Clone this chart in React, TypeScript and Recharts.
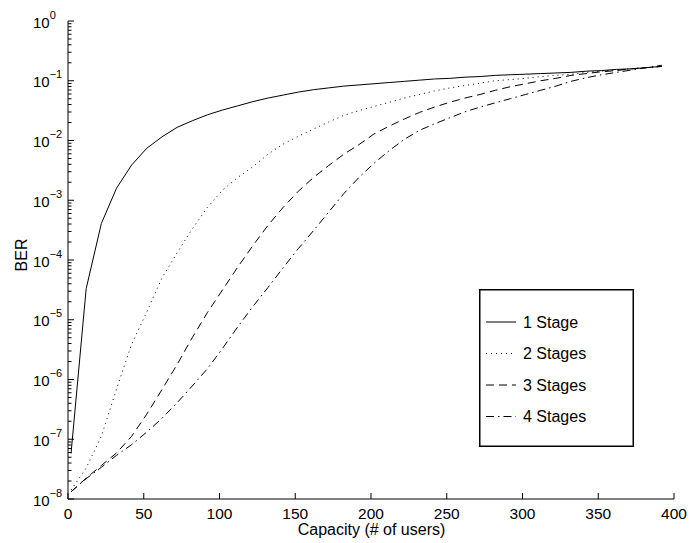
import React from 'react';
import { LineChart, Line, XAxis, YAxis, Legend } from 'recharts';

// capacity (# of users) at which BER was evaluated
const capacity = [2, 12, 22, 32, 42, 52, 62, 72, 82, 92, 102, 112, 122, 132, 142, 152, 162, 172, 182, 192,
  202, 212, 222, 232, 242, 252, 262, 272, 282, 292, 302, 312, 322, 332, 342, 352, 362, 372, 382, 392];

// BER, as base-10 exponents
const stage1Exp = [-7.24, -4.48, -3.39, -2.80, -2.41, -2.13, -1.94, -1.78, -1.67, -1.57,
  -1.49, -1.42, -1.35, -1.29, -1.24, -1.19, -1.15, -1.12, -1.09, -1.07,
  -1.05, -1.03, -1.01, -0.99, -0.97, -0.96, -0.94, -0.93, -0.91, -0.90,
  -0.89, -0.88, -0.87, -0.86, -0.84, -0.83, -0.81, -0.80, -0.78, -0.76];
const stage2Exp = [-7.85, -7.48, -6.95, -6.16, -5.41, -4.87, -4.30, -3.88, -3.48, -3.12,
  -2.83, -2.62, -2.44, -2.23, -2.06, -1.93, -1.81, -1.69, -1.58, -1.50,
  -1.43, -1.36, -1.29, -1.23, -1.17, -1.12, -1.08, -1.04, -1.00, -0.98,
  -0.96, -0.93, -0.91, -0.89, -0.86, -0.84, -0.82, -0.80, -0.78, -0.76];
const stage3Exp = [-7.88, -7.65, -7.44, -7.23, -6.95, -6.58, -6.17, -5.75, -5.30, -4.88,
  -4.50, -4.12, -3.76, -3.42, -3.12, -2.85, -2.62, -2.42, -2.23, -2.07,
  -1.89, -1.76, -1.64, -1.53, -1.44, -1.36, -1.29, -1.23, -1.16, -1.10,
  -1.05, -1.00, -0.96, -0.91, -0.88, -0.85, -0.83, -0.80, -0.78, -0.76];
const stage4Exp = [-7.88, -7.66, -7.47, -7.27, -7.09, -6.88, -6.65, -6.39, -6.11, -5.82,
  -5.48, -5.12, -4.78, -4.46, -4.13, -3.81, -3.51, -3.20, -2.89, -2.62,
  -2.38, -2.17, -1.98, -1.83, -1.72, -1.62, -1.52, -1.44, -1.37, -1.30,
  -1.23, -1.16, -1.09, -1.01, -0.95, -0.90, -0.86, -0.82, -0.78, -0.74];

const xTicks = [0, 50, 100, 150, 200, 250, 300, 350, 400];
const yExponents = [-8, -7, -6, -5, -4, -3, -2, -1, 0];
const minorSteps = [2, 3, 4, 5, 6, 7, 8, 9];

const series = [
  { key: 's1', name: '1 Stage', dash: undefined },
  { key: 's2', name: '2 Stages', dash: '1 4' },
  { key: 's3', name: '3 Stages', dash: '8 5' },
  { key: 's4', name: '4 Stages', dash: '8 4 1.5 4' },
];

const data = capacity.map((c, i) => ({
  capacity: c,
  s1: Math.pow(10, stage1Exp[i]),
  s2: Math.pow(10, stage2Exp[i]),
  s3: Math.pow(10, stage3Exp[i]),
  s4: Math.pow(10, stage4Exp[i]),
}));

const yTicks: number[] = [];
yExponents.forEach((e) => {
  yTicks.push(Math.pow(10, e));
  if (e < 0) minorSteps.forEach((k) => yTicks.push(k * Math.pow(10, e)));
});
yTicks.sort((a, b) => a - b);

const FONT = '"Liberation Sans", Arial, Helvetica, sans-serif';
const expOf = (v: number) => Math.log10(v);
const isMajor = (v: number) => Math.abs(expOf(v) - Math.round(expOf(v))) < 1e-6;

const LeftTick = (props: any) => {
  const { x, y, payload } = props;
  const major = isMajor(payload.value);
  const e = Math.round(expOf(payload.value));
  return (
    <g>
      <line x1={x} x2={x + (major ? 6 : 3.5)} y1={y} y2={y} stroke="#000" strokeWidth={1} />
      {major && (
        <text x={x - 35} y={y + 6.5} fontSize={15} fontFamily={FONT} fill="#000">
          10<tspan dy={-9} fontSize={11}>{e < 0 ? '\u2212' + Math.abs(e) : String(e)}</tspan>
        </text>
      )}
    </g>
  );
};

const RightTick = (props: any) => {
  const { x, y, payload } = props;
  const major = isMajor(payload.value);
  return <line x1={x} x2={x - (major ? 6 : 3.5)} y1={y} y2={y} stroke="#000" strokeWidth={1} />;
};

const BottomTick = (props: any) => {
  const { x, y, payload } = props;
  return (
    <g>
      <line x1={x} x2={x} y1={y} y2={y - 6} stroke="#000" strokeWidth={1} />
      <text x={x} y={y + 20} textAnchor="middle" fontSize={15.5} fontFamily={FONT} fill="#000">
        {payload.value}
      </text>
    </g>
  );
};

const TopTick = (props: any) => {
  const { x, y } = props;
  return <line x1={x} x2={x} y1={y} y2={y + 6} stroke="#000" strokeWidth={1} />;
};

const LegendBox = () => (
  <svg width={155} height={158} style={{ display: 'block' }}>
    <rect x={0.75} y={0.75} width={153.5} height={156.5} fill="#fff" stroke="#000" strokeWidth={1.5} />
    {series.map((s, i) => {
      const cy = 33 + i * 31.5;
      return (
        <g key={s.key}>
          <line x1={7} x2={37} y1={cy} y2={cy} stroke="#000" strokeWidth={1} strokeDasharray={s.dash} />
          <text x={44} y={cy + 5.5} fontSize={16} fontFamily={FONT} fill="#000">{s.name}</text>
        </g>
      );
    })}
  </svg>
);

export default function App() {
  return (
    <div style={{ position: 'absolute', left: 0, top: 0, width: 691, height: 543, background: '#fff' }}>
      <LineChart width={691} height={543} data={data} margin={{ top: 21, right: 17, bottom: 14, left: 0 }}>
        <XAxis
          dataKey="capacity"
          type="number"
          domain={[0, 400]}
          ticks={xTicks}
          interval={0}
          height={30}
          tickSize={0}
          tickMargin={0}
          tickLine={false}
          axisLine={{ stroke: '#000', strokeWidth: 1 }}
          tick={<BottomTick />}
        />
        <XAxis
          xAxisId="top"
          orientation="top"
          type="number"
          domain={[0, 400]}
          ticks={xTicks}
          interval={0}
          height={0}
          tickSize={0}
          tickMargin={0}
          tickLine={false}
          axisLine={{ stroke: '#000', strokeWidth: 1 }}
          tick={<TopTick />}
          allowDataOverflow
        />
        <YAxis
          scale="log"
          type="number"
          domain={[1e-8, 1]}
          ticks={yTicks}
          interval={0}
          width={68}
          tickSize={0}
          tickMargin={0}
          tickLine={false}
          axisLine={{ stroke: '#000', strokeWidth: 1 }}
          tick={<LeftTick />}
          allowDataOverflow
        />
        <YAxis
          yAxisId="right"
          orientation="right"
          scale="log"
          type="number"
          domain={[1e-8, 1]}
          ticks={yTicks}
          interval={0}
          width={0}
          tickSize={0}
          tickMargin={0}
          tickLine={false}
          axisLine={{ stroke: '#000', strokeWidth: 1 }}
          tick={<RightTick />}
          allowDataOverflow
        />
        <Legend
          layout="vertical"
          align="center"
          verticalAlign="middle"
          content={() => <LegendBox />}
          wrapperStyle={{ left: 479, top: 289, width: 155, height: 158 }}
        />
        {series.map((s) => (
          <Line
            key={s.key}
            dataKey={s.key}
            name={s.name}
            type="linear"
            stroke="#000"
            strokeWidth={1}
            strokeDasharray={s.dash}
            dot={false}
            activeDot={false}
            isAnimationActive={false}
          />
        ))}
      </LineChart>
      <div
        style={{
          position: 'absolute', left: 0, top: 522, width: 743, textAlign: 'center',
          fontFamily: FONT, fontSize: 16, lineHeight: '16px', color: '#000',
        }}
      >
        Capacity (# of users)
      </div>
      <div
        style={{
          position: 'absolute', left: 21.5, top: 255, transform: 'translate(-50%, -50%) rotate(-90deg)',
          fontFamily: FONT, fontSize: 16, lineHeight: '16px', color: '#000', whiteSpace: 'nowrap',
        }}
      >
        BER
      </div>
    </div>
  );
}
